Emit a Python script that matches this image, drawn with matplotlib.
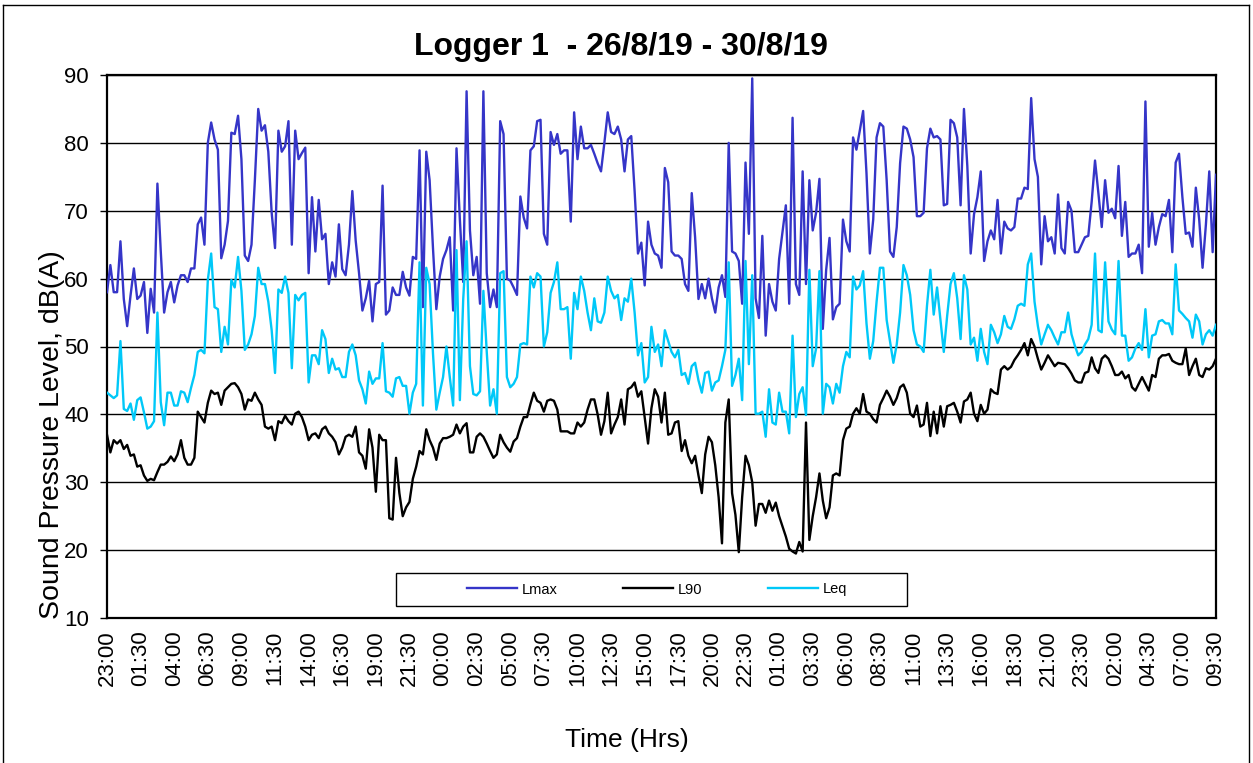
import numpy as np
import matplotlib
matplotlib.use("Agg")
import matplotlib.pyplot as plt
from matplotlib.patches import Rectangle
from matplotlib.lines import Line2D

plt.rcParams['font.family'] = ['Liberation Sans', 'DejaVu Sans']

tick_labels = ["23:00", "01:30", "04:00", "06:30", "09:00", "11:30", "14:00", "16:30",
               "19:00", "21:30", "00:00", "02:30", "05:00", "07:30", "10:00", "12:30",
               "15:00", "17:30", "20:00", "22:30", "01:00", "03:30", "06:00", "08:30",
               "11:00", "13:30", "16:00", "18:30", "21:00", "23:30", "02:00", "04:30",
               "07:00", "09:30"]

lmax = [58, 62, 58, 58, 65.5, 57, 53, 57.5, 61.5, 57, 57.5, 59.5, 52, 58.5, 55, 74, 64, 55, 58, 59.5,
        56.5, 59, 60.5, 60.5, 59.5, 61.5, 61.5, 68, 69,
        65, 80, 83, 80.5, 79, 63, 65, 68.5, 81.5, 81.3, 84, 77.6, 63.4, 62.6, 65, 74.5, 85, 81.8, 82.6, 78.7,
        69.7, 64.5, 81.8, 78.7, 79.5, 83.2, 65, 81.8, 77.6, 78.5,
        79.3, 60.8, 72, 64, 71.6, 65.8, 66.6, 59.2, 62.4, 60.3, 68, 61.4, 60.5, 65, 72.9, 65.6, 60.8, 55.3,
        57.1, 59.7, 53.7, 59.2, 59.5, 73.7, 54.7, 55.3, 58.7, 57.6, 57.6, 61,
        58.7, 57.5, 63.2, 62.9, 78.9, 55.8, 78.7, 74.5, 64.5, 55.5, 60.3, 62.9, 64.2, 66.1, 55.3, 79.2, 68.7,
        59.5, 87.6, 67.1, 60.5, 63.2, 56.3, 87.6, 60.8, 55.8, 58.4, 55.8, 83.2, 81.3,
        60, 59.7, 58.7, 57.6, 72.1, 69, 67.4, 78.9, 79.5, 83.2, 83.4, 66.6, 65, 81.6, 79.7, 81.3, 78.4, 78.9,
        78.9, 68.4, 84.5, 77.6, 82.4, 79.2, 79.2, 79.7, 78.4, 77, 75.8,
        80, 84.5, 81.6, 81.3, 82.4, 80.5, 75.8, 80.5, 81, 72.9, 63.7, 65.3, 59, 68.4, 65, 63.7, 63.4, 61.6,
        76.3, 74.2, 64, 63.4, 63.4, 62.9, 59.2, 58.2, 72.6, 66.1, 57, 59.2,
        57.1, 60, 57.1, 55, 58.7, 60.5, 57.3, 80, 64, 63.7, 62.6, 56.3, 77.1, 66.6, 89.5, 57.1, 54.2, 66.3,
        51.6, 59.2, 56.6, 55.3, 62.9, 66.8, 70.8, 56.3, 83.7, 59.2, 57.6, 75.8,
        59.2, 74.5, 67.1, 69.7, 74.7, 52.6, 61.3, 66, 54, 55.8, 56.3, 68.7, 65.5, 64, 80.8, 79, 81.8, 84.7,
        75.5, 63.7, 68.7, 80.8, 82.9, 82.4, 74.5, 64, 63.2, 67.6,
        77, 82.4, 82.1, 80.5, 77.9, 69.2, 69.2, 69.7, 79.2, 82.1, 80.8, 81, 80.5, 70.8, 71, 83.4, 82.9, 80.8,
        70.8, 85, 76.6, 63.7, 69.5, 72, 75.8, 62.6, 65.5, 67.1, 65.8, 71.6, 63.7, 68.4,
        67.4, 67.1, 67.6, 71.8, 71.8, 73.4, 73.2, 86.6, 77.6, 75, 62.1, 69.2, 65.5, 66.1, 63.7, 72.4, 64.5,
        63.7, 71.3, 70, 63.9, 63.9, 65, 66.1, 66.3, 71.3, 77.4, 72.6, 67.6, 74.5,
        69.7, 70.3, 68.9, 76.6, 66.3, 71.3, 63.2, 63.7, 63.7, 65, 60.8, 86.1, 64.7, 69.7, 65, 67.6, 69.5, 69.2,
        71.6, 63.9, 77.1, 78.4, 72, 66.6, 66.8, 64.7, 73.4, 68.7, 61.6, 68, 75.8, 63.9, 75.3]

l90 = [37, 34.4, 36.2, 35.7, 36.2, 34.9, 35.5, 33.9, 34.1, 32.3, 32.5, 31, 30.2, 30.5, 30.3, 31.5, 32.6,
       32.6, 33, 33.8, 33.1, 34.1, 36.2, 33.6, 32.6, 32.6, 33.6, 40.4, 39.6,
       38.8, 41.7, 43.5, 43, 43.2, 41.4, 43.5, 44, 44.5, 44.6, 44, 43, 40.7, 42.2, 42, 43.2, 42.2, 41.4, 38.2,
       37.9, 38.2, 36.2, 39, 38.7, 39.8, 39, 38.5, 40.1, 40.4, 39.6,
       38.2, 36.2, 37, 37.2, 36.5, 37.8, 38.2, 37.2, 36.7, 35.9, 34.1, 35.1, 36.7, 37, 36.7, 38.2, 34.4, 33.9,
       32, 37.8, 35.1, 28.6, 37, 36.2, 36.2, 24.7, 24.5, 33.6, 28.4, 25,
       26.3, 27.1, 30.5, 32.3, 34.6, 34.1, 37.8, 36.2, 35.1, 33.3, 35.7, 36.5, 36.5, 36.7, 37, 38.5, 37.2,
       38.2, 38.7, 34.4, 34.4, 36.7, 37.2, 36.7, 35.7, 34.6, 33.6, 34.1, 37, 35.9,
       35.1, 34.5, 36, 36.5, 38.2, 39.6, 39.6, 41.5, 43.2, 42, 41.7, 40.4, 42, 42.2, 42, 40.7, 37.5, 37.5,
       37.5, 37.2, 37.2, 38.8, 38.2, 38.8, 40.7, 42.2, 42.2, 40, 37,
       39, 43.2, 37.2, 38.5, 39.6, 42.2, 38.5, 43.7, 44, 44.7, 42.6, 43.4, 39.6, 35.7, 40.9, 43.7, 42.6, 38.8,
       43.2, 37, 37.2, 38.8, 39, 34.6, 36.2, 33.9, 32.8, 33.9, 31, 28.4,
       34.1, 36.7, 35.9, 32.5, 27.8, 21, 38.8, 42.2, 28.4, 25.2, 19.7, 27.8, 33.9, 32.5, 30, 23.6, 26.8, 26.8,
       25.5, 27.3, 25.8, 27, 25, 23.5, 22, 20.2, 19.8, 19.5, 21.2, 19.8,
       38.8, 21.5, 25, 27.8, 31.3, 27.3, 24.7, 26.3, 31, 31.3, 31, 36.2, 37.9, 38.2, 40.1, 40.9, 40.1, 43,
       40.4, 40.1, 39.3, 38.8, 41.4, 42.4, 43.5, 42.6, 41.4, 42.4,
       44, 44.4, 43.2, 40.1, 39.6, 41.3, 38.2, 38.5, 41.7, 36.8, 40.4, 37.2, 41.2, 38.2, 41.2, 41.4, 41.7,
       40.4, 38.8, 41.9, 42.2, 43.2, 40.1, 39, 41.4, 40.1, 40.7, 43.7, 43.2, 43, 46.6, 47.1,
       46.6, 47, 48, 48.7, 49.5, 50.5, 48.7, 51.1, 50, 48.2, 46.6, 47.6, 48.7, 47.9, 47.1, 47.6, 47.5, 47.4,
       46.8, 46, 45, 44.7, 44.7, 46.1, 46.3, 48.4, 46.8, 46.1, 48.2, 48.7,
       48.2, 47.1, 45.8, 45.8, 46.3, 45.3, 45.8, 44, 43.5, 44.5, 45.5, 44.5, 43.5, 45.8, 45.5, 48.2, 48.7,
       48.7, 48.9, 47.9, 47.6, 47.4, 47.4, 49.7, 45.8, 47.1, 48.2, 45.8, 45.5, 46.8, 46.6, 47.1, 48.2]

leq = [43.2, 42.8, 42.4, 42.8, 50.8, 40.8, 40.5, 41.6, 39.2, 42.1, 42.5, 40.3, 37.9, 38.2, 39, 55, 41.8,
       38.4, 43.2, 43.2, 41.3, 41.3, 43.4, 43.2, 41.8, 43.9, 45.8, 49.2, 49.5,
       49, 59.8, 63.7, 55.8, 55.5, 49.2, 52.9, 50.3, 59.8, 58.7, 63.2, 58.2, 49.5, 50.3, 51.8, 54.5, 61.6,
       59.2, 59.2, 56.6, 52.4, 46.1, 58.4, 57.9, 60.3, 57.9, 46.8, 57.6, 56.8, 57.6,
       57.9, 44.7, 48.7, 48.7, 47.4, 52.4, 51.1, 46.1, 48.2, 46.6, 46.8, 45.5, 45.5, 49.2, 50.3, 48.7, 45,
       43.7, 41.6, 46.3, 44.5, 45.3, 45.3, 50.5, 43.4, 43.2, 42.6, 45.3, 45.5, 44.2,
       44.2, 40.1, 43.2, 44.5, 62.4, 41.3, 61.6, 59.2, 49, 40.7, 43.2, 45.5, 50, 45.5, 41.3, 64.2, 42.1, 57,
       65.5, 47.1, 43, 42.8, 43.4, 58.2, 49.2, 41.3, 43.7, 40.1, 60.8, 61.1,
       45.5, 44, 44.5, 45.5, 50.3, 50.5, 50.3, 60.3, 58.7, 60.8, 60.3, 50, 52.1, 57.9, 59.5, 62.4, 55.5, 55.5,
       55.8, 48.2, 57.9, 55.5, 60.3, 58.2, 55, 52.4, 57.1, 53.7, 53.5,
       55, 60.3, 58.2, 57.1, 57.6, 53.9, 57.1, 56.6, 60, 55, 48.7, 50.5, 44.7, 45.5, 52.9, 49.2, 50.3, 47.1,
       52.4, 50.8, 49.2, 48.4, 49.5, 45.8, 46.1, 44.5, 47.1, 47.6, 45, 43.2,
       46.1, 46.3, 43.5, 44.7, 45, 47.1, 49.5, 62.4, 44.2, 45.8, 48.2, 42.1, 62.6, 47.4, 60.5, 40.1, 40.1,
       40.4, 36.7, 43.7, 38.8, 38.5, 43.2, 40.4, 40.4, 37.2, 51.6, 39.6, 43, 44,
       39.9, 61.3, 47.1, 49.7, 61.1, 40.1, 44.5, 44, 41.6, 44.5, 43.2, 47.1, 49.2, 48.4, 60.3, 58.4, 59, 61.1,
       53.4, 48.2, 50.8, 56.6, 61.6, 61.6, 53.9, 50.8, 47.6, 50.3,
       55, 62, 60.5, 57.6, 52.4, 50.3, 50, 49.2, 56, 61.3, 54.7, 58.7, 53.9, 49.2, 54.5, 59.2, 60.8, 57.1,
       51.1, 60.5, 58.4, 50.3, 51.3, 47.9, 52.6, 49.2, 47.4, 53.2, 52.1, 50.5, 51.8, 54.5,
       52.9, 52.6, 54, 56, 56.3, 56, 62.1, 63.7, 56.6, 53, 50.3, 51.8, 53.2, 52.4, 51.3, 50.3, 52.1, 52.1,
       55, 51.8, 50.1, 48.7, 49.2, 50.3, 51.1, 53.2, 63.7, 52.4, 52.1, 62.4,
       53.7, 52.5, 51.8, 62.6, 51.6, 51.6, 47.9, 48.4, 49.7, 50.5, 49.5, 55.5, 48.4, 51.6, 51.8, 53.7, 53.9,
       53.4, 53.4, 51.8, 62.1, 55.3, 54.8, 54.2, 53.7, 51.3, 54.7, 53.7, 50.3, 51.8, 52.4, 51.6, 53.2]

W, H = 1253, 763
fig = plt.figure(figsize=(W / 100, H / 100), dpi=100)
L, R, T, B = 107, 1216, 75, 618
ax = fig.add_axes([L / W, 1 - B / H, (R - L) / W, (B - T) / H])

x = np.arange(len(lmax))
ax.plot(x, lmax, color='#3535C8', lw=1.7, label='Lmax', zorder=3)
ax.plot(x, l90, color='black', lw=1.7, label='L90', zorder=3)
ax.plot(x, leq, color='#00C8F8', lw=1.7, label='Leq', zorder=3)

ax.set_xlim(0, len(lmax) - 1)
ax.set_ylim(10, 90)
ax.set_yticks(np.arange(10, 91, 10))
ax.yaxis.grid(True, color='black', lw=1.0)
ax.set_axisbelow(True)
ax.set_xticks(np.arange(0, len(lmax), 10))
ax.set_xticklabels(tick_labels, rotation=90, fontsize=16)
ax.tick_params(axis='x', length=0, pad=9)
ax.tick_params(axis='y', direction='out', length=5, width=1, pad=8, labelsize=16)
for s in ax.spines.values():
    s.set_linewidth(1.6)

# legend box
lx0, lx1, ly0, ly1 = 396, 907, 573, 606
ax.add_patch(Rectangle(((lx0 - L) / (R - L), (B - ly1) / (B - T)), (lx1 - lx0) / (R - L),
                       (ly1 - ly0) / (B - T), transform=ax.transAxes, facecolor='white',
                       edgecolor='black', lw=1.0, zorder=5))
leg = ax.legend(loc='center', bbox_to_anchor=((657 - L) / (R - L), (B - 589.5) / (B - T)),
                ncol=3, frameon=False, fontsize=10.5, handlelength=3.4, handletextpad=0.35,
                columnspacing=4.5)
leg.set_zorder(6)

fig.text(621 / W, 1 - 47 / H, "Logger 1  - 26/8/19 - 30/8/19", ha='center', va='center',
         fontsize=23, fontweight='bold')
fig.text(52 / W, 1 - 435 / H, "Sound Pressure Level, dB(A)", rotation=90, ha='center',
         va='center', fontsize=20.5)
fig.text(627 / W, 1 - 740 / H, "Time (Hrs)", ha='center', va='center', fontsize=19)

# outer chart border
fig.add_artist(Line2D([3 / W, 3 / W], [0, 1 - 5 / H], color='black', lw=1.0))
fig.add_artist(Line2D([3 / W, 1249 / W], [1 - 5 / H, 1 - 5 / H], color='black', lw=1.0))
fig.add_artist(Line2D([1249 / W, 1249 / W], [0, 1 - 5 / H], color='black', lw=1.0))

fig.savefig('out.png', dpi=100)
